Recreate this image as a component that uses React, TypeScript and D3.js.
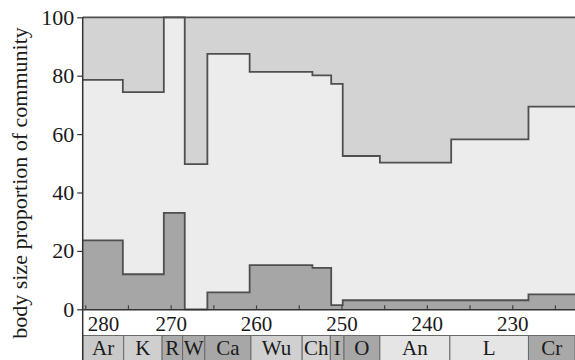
import { useRef, useEffect } from "react";
import * as d3 from "d3";

// start age (Ma) of each sampling bin, oldest first
const binStarts = [280.3, 275.6, 270.8, 268.35, 265.7, 260.75, 253.4, 251.2, 249.85, 245.5, 237.15, 228.1];
const binEnd = 222.65;

// share of the community (%) in each body-size class, per bin
const smallPct = [23.6, 12.0, 33.0, 0, 5.8, 15.1, 14.2, 1.4, 3.1, 3.1, 3.1, 5.1];
const mediumPct = [55.0, 62.4, 67.0, 49.7, 81.7, 66.2, 65.9, 75.8, 49.4, 47.1, 55.1, 64.3];
const largePct = [21.4, 25.6, 0, 50.3, 12.5, 18.7, 19.9, 22.8, 47.5, 49.8, 41.8, 30.6];

// stage bar
const stageNames = ["Ar", "K", "R", "W", "Ca", "Wu", "Ch", "I", "O", "An", "L", "Cr"];
const stageBounds = [280.3, 275.5, 271.0, 268.6, 266.0, 260.6, 254.6, 251.3, 249.7, 245.5, 237.3, 228.1, 222.65];
const stageShades = ["#c9c9c9", "#cfcfcf", "#ababab", "#aaaaaa", "#a7a7a7", "#d0d0d0", "#d2d2d2", "#b2b2b2", "#a7a7a7", "#e5e5e5", "#e5e5e5", "#a8a8a8"];

const xLabelTicks = [280, 270, 260, 250, 240, 230];
const yTicks = [0, 20, 40, 60, 80, 100];

const FONT = "'Liberation Serif', 'Times New Roman', serif";

export default function App() {
  const svgRef = useRef<SVGSVGElement>(null);

  useEffect(() => {
    const width = 575;
    const height = 360;
    const left = 82.7;
    const plotTop = 17.3;
    const plotBottom = 309.3;

    const svg = d3.select(svgRef.current);
    svg.selectAll("*").remove();

    const x = d3.scaleLinear().domain([280.3, binEnd]).range([left, width]);
    const y = d3.scaleLinear().domain([0, 100]).range([plotBottom, plotTop]);

    const rows = binStarts.map((t, i) => ({ t, small: smallPct[i], medium: mediumPct[i], large: largePct[i] }));
    const last = rows[rows.length - 1];
    rows.push({ ...last, t: binEnd });

    const stacked = d3.stack<any>().keys(["small", "medium", "large"])(rows);
    const fills = ["#a6a6a6", "#ececec", "#d3d3d3"];

    const area = d3
      .area<any>()
      .x((d) => x(d.data.t))
      .y0((d) => y(d[0]))
      .y1((d) => y(d[1]))
      .curve(d3.curveStepAfter);

    svg
      .append("g")
      .selectAll("path")
      .data(stacked)
      .enter()
      .append("path")
      .attr("d", (s) => area(s))
      .attr("fill", (_, i) => fills[i]);

    // boundary lines between the size classes
    const line = d3
      .line<any>()
      .x((d) => x(d.data.t))
      .y((d) => y(d[1]))
      .curve(d3.curveStepAfter);

    svg
      .append("g")
      .selectAll("path")
      .data(stacked)
      .enter()
      .append("path")
      .attr("d", (s) => line(s))
      .attr("fill", "none")
      .attr("stroke", "#4f4f4f")
      .attr("stroke-width", 1.8);

    // stage bar
    const sg = svg.append("g");
    sg.selectAll("rect")
      .data(stageNames)
      .enter()
      .append("rect")
      .attr("x", (_, i) => x(stageBounds[i]))
      .attr("width", (_, i) => x(stageBounds[i + 1]) - x(stageBounds[i]))
      .attr("y", 335.5)
      .attr("height", 30)
      .attr("fill", (_, i) => stageShades[i])
      .attr("stroke", "#6a6a6a")
      .attr("stroke-width", 1);
    sg.selectAll("text")
      .data(stageNames)
      .enter()
      .append("text")
      .attr("x", (_, i) => (x(stageBounds[i]) + x(stageBounds[i + 1])) / 2)
      .attr("y", 354.5)
      .attr("text-anchor", "middle")
      .attr("font-family", FONT)
      .attr("font-size", "21px")
      .attr("fill", "#1a1a1a")
      .text((d) => d);

    // x axis, ticks pointing into the plot
    const xAxis = svg
      .append("g")
      .attr("transform", `translate(0,${plotBottom})`)
      .call(
        d3
          .axisBottom(x)
          .tickValues(d3.range(225, 281, 5))
          .tickSize(-4)
          .tickSizeOuter(0)
          .tickPadding(6.8)
          .tickFormat((d) => (xLabelTicks.includes(+d) ? String(d) : ""))
      );
    xAxis.select(".domain").attr("stroke", "#333").attr("stroke-width", 1.5);
    xAxis.selectAll(".tick line").attr("stroke", "#444").attr("stroke-width", 1.2);
    xAxis
      .selectAll(".tick text")
      .attr("font-family", FONT)
      .attr("font-size", "21px")
      .attr("fill", "#1a1a1a");
    // first label pushed right so it clears the y axis
    xAxis
      .selectAll(".tick text")
      .filter((d) => d === 280)
      .attr("text-anchor", "start")
      .attr("x", 2);

    // y axis
    const yAxis = svg
      .append("g")
      .attr("transform", `translate(${left},0)`)
      .call(d3.axisLeft(y).tickValues(yTicks).tickSize(5.5).tickSizeOuter(0).tickPadding(3));
    yAxis.select(".domain").remove();
    yAxis.selectAll(".tick line").attr("stroke", "#333").attr("stroke-width", 1.2);
    yAxis
      .selectAll(".tick text")
      .attr("font-family", FONT)
      .attr("font-size", "22px")
      .attr("fill", "#1a1a1a");

    svg
      .append("line")
      .attr("x1", left)
      .attr("x2", left)
      .attr("y1", plotTop)
      .attr("y2", height)
      .attr("stroke", "#333")
      .attr("stroke-width", 1.5);

    svg
      .append("text")
      .attr("transform", `translate(27,183) rotate(-90)`)
      .attr("text-anchor", "middle")
      .attr("font-family", FONT)
      .attr("font-size", "22px")
      .attr("fill", "#1a1a1a")
      .text("body size proportion of community");
  }, []);

  return (
    <>
      <style>{"body{margin:0;background:#fff}"}</style>
      <svg ref={svgRef} width={575} height={360} style={{ display: "block" }} />
    </>
  );
}
